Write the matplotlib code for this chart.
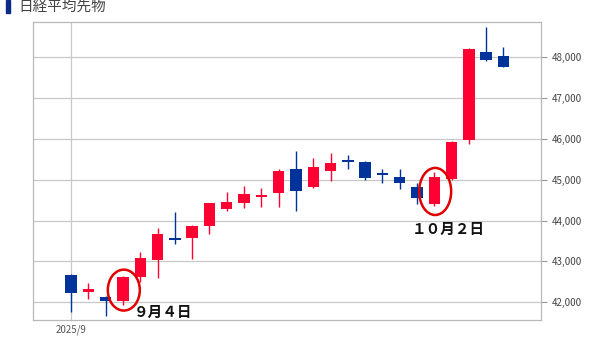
import numpy as np
import matplotlib
matplotlib.use("Agg")
import matplotlib.pyplot as plt
from matplotlib.patches import Ellipse, Rectangle

plt.rcParams['font.family'] = ['Noto Sans CJK JP', 'DejaVu Sans']

# Nikkei 225 futures, daily candles from 2025/9/1
opens  = [42680, 42265, 42140, 42040, 42610, 43035, 43580, 43565, 43865, 44270,
          44420, 44565, 44665, 45250, 44825, 45215, 45475, 45435, 45150, 45070,
          44825, 44400, 45005, 45965, 48120, 48015]
highs  = [42690, 42480, 42150, 42640, 43220, 43825, 44200, 43880, 44440, 44700,
          44850, 44785, 45250, 45695, 45535, 45640, 45600, 45460, 45255, 45255,
          44905, 45190, 45940, 48205, 48720, 48245]
lows   = [41765, 42080, 41665, 41935, 42505, 42585, 43415, 43060, 43670, 44230,
          44295, 44335, 44335, 44230, 44800, 44965, 45255, 44990, 44905, 44760,
          44400, 44355, 44990, 45865, 47900, 47740]
closes = [42225, 42335, 42030, 42625, 43075, 43660, 43520, 43865, 44425, 44460,
          44645, 44620, 45210, 44720, 45315, 45410, 45435, 45030, 45110, 44920,
          44540, 45055, 45925, 48180, 47920, 47755]
y_ticks = [42000, 43000, 44000, 45000, 46000, 47000, 48000]

up_color = '#ff0033'
down_color = '#003399'

x = np.arange(len(opens))
o = np.array(opens)
c = np.array(closes)
colors = [up_color if cc >= oo else down_color for oo, cc in zip(o, c)]

fig = plt.figure(figsize=(6, 3.38), dpi=100)
ax = fig.add_axes([0.055, 0.0533, 0.8467, 0.8816])

ax.vlines(x, lows, highs, colors=colors, linewidth=1.0, zorder=2)
body = np.abs(c - o)
body = np.maximum(body, 45)
ax.bar(x, body, bottom=np.minimum(o, c), width=0.66, color=colors, zorder=3)

ax.set_xlim(-2.2, 27.17)
ax.set_ylim(41570, 48850)

ax.yaxis.tick_right()
ax.set_yticks(y_ticks)
ax.set_yticklabels([f'{v:,}' for v in y_ticks])
ax.tick_params(axis='y', length=4, color='#999999', labelsize=7, labelcolor='#444444', pad=4)
ax.set_xticks([0])
ax.set_xticklabels(['2025/9'])
ax.tick_params(axis='x', length=0, labelsize=7, labelcolor='#555555', pad=3)
ax.grid(True, color='#c8c8c8', linewidth=0.9, zorder=0)
for s in ax.spines.values():
    s.set_color('#b8b8b8')
    s.set_linewidth(0.9)

# red circles and labels
ax.add_patch(Ellipse((3.05, 42300), 1.85, 1000, fill=False, edgecolor='#e00000',
                     linewidth=1.8, zorder=4))
ax.add_patch(Ellipse((21.05, 44710), 1.85, 1150, fill=False, edgecolor='#e00000',
                     linewidth=1.8, zorder=4))
ax.text(3.6, 41770, '９月４日', fontsize=10.5, fontweight='bold', color='#111111',
        va='center', ha='left', zorder=5)
ax.text(19.7, 43790, '１０月２日', fontsize=10.5, fontweight='bold', color='#111111',
        va='center', ha='left', zorder=5)

# title at the top edge
fig.patches.append(Rectangle((0.010, 0.962), 0.007, 0.038, transform=fig.transFigure,
                             color='#0d2a8a', figure=fig))
fig.text(0.030, 0.977, '日経平均先物', fontsize=10.5, color='#444444', va='center', ha='left')

fig.savefig('out.png', dpi=100)
